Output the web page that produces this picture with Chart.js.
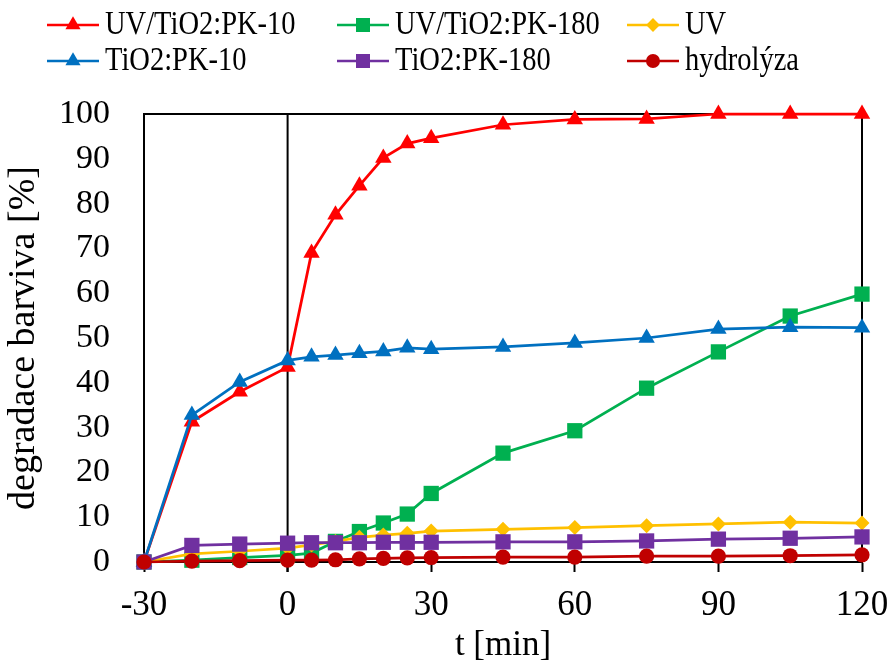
<!DOCTYPE html>
<html lang="cs">
<head>
  <meta charset="UTF-8" />
  <title>Degradace barviva</title>
  <script src="https://cdn.jsdelivr.net/npm/chart.js"></script>
  <style>
    html, body { margin: 0; padding: 0; background: #fff; }
    #wrap { width: 891px; height: 661px; }
  </style>
</head>
<body>
  <div id="wrap"><canvas id="degChart" width="891" height="661"></canvas></div>

  <script>
    // čas odběru [min]
    const casy = [-30, -20, -10, 0, 5, 10, 15, 20, 25, 30, 45, 60, 75, 90, 105, 120];

    // degradace barviva [%]
    const uvTio2Pk10  = [0, 31.3, 38.0, 43.5, 69.0, 77.5, 84.0, 90.2, 93.4, 94.6, 97.6, 98.8, 98.9, 100, 100, 100];
    const uvTio2Pk180 = [0, 0.4, 1.0, 1.5, 2.0, 4.6, 6.8, 8.7, 10.7, 15.3, 24.3, 29.3, 38.8, 46.9, 54.9, 59.8];
    const uvSamotne   = [0, 1.8, 2.4, 3.1, 3.8, 4.6, 5.5, 6.0, 6.4, 6.9, 7.3, 7.7, 8.1, 8.5, 8.9, 8.7];
    const tio2Pk10    = [0, 32.8, 40.2, 45.0, 45.8, 46.2, 46.6, 47.0, 47.8, 47.5, 48.0, 48.9, 50.0, 52.0, 52.4, 52.3];
    const tio2Pk180   = [0, 3.7, 4.0, 4.2, 4.3, 4.3, 4.3, 4.4, 4.4, 4.4, 4.5, 4.5, 4.7, 5.1, 5.3, 5.6];
    const hydrolyza   = [0, 0.2, 0.3, 0.4, 0.4, 0.5, 0.7, 0.8, 0.9, 1.0, 1.1, 1.1, 1.3, 1.3, 1.4, 1.6];

    const xTicks = [-30, 0, 30, 60, 90, 120];

    const serif = '"Liberation Serif", "Times New Roman", serif';

    function serie(label, hodnoty, barva, tvar, r, poradi) {
      return {
        label: label,
        data: hodnoty.map((v, i) => ({ x: casy[i], y: v })),
        borderColor: barva,
        backgroundColor: barva,
        borderWidth: 2.75,
        pointStyle: tvar,
        pointRadius: r,
        pointHoverRadius: r,
        pointBorderWidth: 0,
        tension: 0,
        clip: false,
        order: poradi
      };
    }

    // pořadí v legendě: po řádcích, tři sloupce
    const datasets = [
      serie('UV/TiO2:PK-10', uvTio2Pk10, '#FF0000', 'triangle', 9.5, 6),
      serie('UV/TiO2:PK-180', uvTio2Pk180, '#00B050', 'rect', 10.8, 5),
      serie('UV', uvSamotne, '#FFC000', 'rectRot', 7.5, 4),
      serie('TiO2:PK-10', tio2Pk10, '#0070C0', 'triangle', 9.5, 3),
      serie('TiO2:PK-180', tio2Pk180, '#7030A0', 'rect', 10.8, 2),
      serie('hydrolýza', hydrolyza, '#C00000', 'circle', 7.6, 1)
    ];

    // rámeček grafu a svislá čára v čase 0
    const ramecek = {
      id: 'ramecek',
      beforeDatasetsDraw(chart) {
        const { ctx, chartArea: a, scales } = chart;
        const x0 = scales.x.getPixelForValue(0);
        ctx.save();
        ctx.strokeStyle = '#000';
        ctx.lineWidth = 2;
        ctx.beginPath();
        ctx.moveTo(a.left, a.top);
        ctx.lineTo(a.right, a.top);
        ctx.lineTo(a.right, a.bottom);
        ctx.moveTo(x0, a.top);
        ctx.lineTo(x0, a.bottom + 10);
        ctx.stroke();
        ctx.restore();
      }
    };

    // legenda: čára se značkou uprostřed, text vpravo
    const legenda = {
      id: 'legenda',
      afterDraw(chart) {
        const ctx = chart.ctx;
        const sloupce = [47, 337, 627];
        const radky = [25, 61];
        ctx.save();
        chart.data.datasets.forEach((ds, i) => {
          const x = sloupce[i % 3];
          const y = radky[Math.floor(i / 3)];
          ctx.strokeStyle = ds.borderColor;
          ctx.lineWidth = 2.5;
          ctx.beginPath();
          ctx.moveTo(x, y);
          ctx.lineTo(x + 52, y);
          ctx.stroke();
          ctx.fillStyle = ds.backgroundColor;
          Chart.helpers.drawPoint(ctx, {
            pointStyle: ds.pointStyle,
            radius: ds.pointRadius * 0.92,
            borderWidth: 0,
            rotation: 0
          }, x + 26, y);
          // text je v legendě o něco vyšší než široký
          ctx.save();
          ctx.translate(x + 58, y);
          ctx.scale(1, 1.15);
          ctx.fillStyle = '#000';
          ctx.font = '28.5px ' + serif;
          ctx.textBaseline = 'middle';
          ctx.textAlign = 'left';
          ctx.fillText(ds.label, 0, 0);
          ctx.restore();
        });
        ctx.restore();
      }
    };

    new Chart(document.getElementById('degChart'), {
      type: 'line',
      data: { datasets: datasets },
      options: {
        responsive: false,
        animation: false,
        layout: { padding: { top: 114, right: 29, left: 0, bottom: 0 } },
        plugins: {
          legend: { display: false },
          tooltip: { enabled: false }
        },
        scales: {
          x: {
            type: 'linear',
            min: -30,
            max: 120,
            afterFit: s => {
              s.height = 99;
              s.paddingLeft = 0;
              s.paddingRight = 0;
            },
            afterBuildTicks: s => { s.ticks = xTicks.map(v => ({ value: v })); },
            ticks: {
              color: '#000',
              padding: 13,
              font: { family: serif, size: 35 }
            },
            grid: {
              display: true,
              drawOnChartArea: false,
              drawTicks: true,
              tickLength: 10,
              tickColor: '#000',
              tickWidth: 2
            },
            border: { display: true, color: '#000', width: 2 },
            title: {
              display: true,
              text: 't [min]',
              color: '#000',
              padding: 0,
              font: { family: serif, size: 35, lineHeight: 0.85 }
            }
          },
          y: {
            min: 0,
            max: 100,
            afterFit: s => { s.width = 144; },
            ticks: {
              stepSize: 10,
              color: '#000',
              padding: 34,
              font: { family: serif, size: 34 }
            },
            grid: { display: true, drawOnChartArea: false, drawTicks: false },
            border: { display: true, color: '#000', width: 2 },
            title: {
              display: true,
              text: 'degradace barviva [%]',
              color: '#000',
              padding: { top: 5, bottom: 0 },
              font: { family: serif, size: 38, lineHeight: 1 }
            }
          }
        }
      },
      plugins: [ramecek, legenda]
    });
  </script>
</body>
</html>
